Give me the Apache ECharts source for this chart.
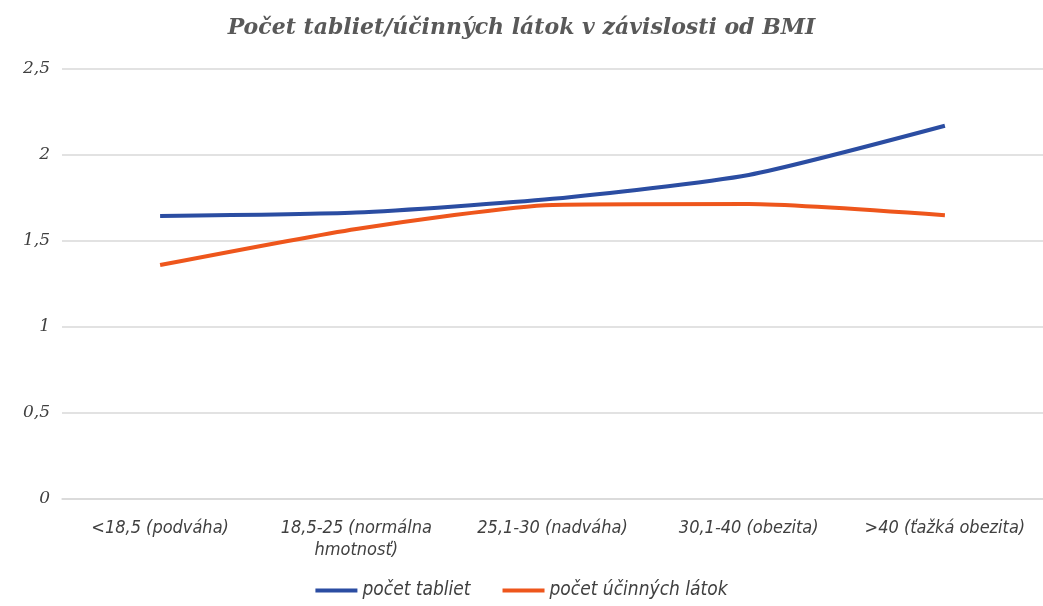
<!DOCTYPE html>
<html><head><meta charset="utf-8">
<script src="https://cdn.jsdelivr.net/npm/echarts@6/dist/echarts.min.js"></script>
<style>html,body{margin:0;padding:0;background:#fff}#c{width:1043px;height:606px}</style>
</head><body><div id="c"></div>
<script>
const categories = ["<18,5 (podváha)", "18,5-25 (normálna\nhmotnosť)", "25,1-30 (nadváha)", "30,1-40 (obezita)", ">40 (ťažká obezita)"];
const tablety = [1.645, 1.665, 1.745, 1.884, 2.17];
const latky = [1.36, 1.57, 1.71, 1.715, 1.65];
const seriesNames = ["počet tabliet", "počet účinných látok"];
const titleText = "Počet tabliet/účinných látok v závislosti od BMI";

const chart = echarts.init(document.getElementById('c'));
chart.setOption({
  animation: false,
  backgroundColor: '#fff',
  title: {
    text: titleText, left: 'center', top: 12,
    textStyle: {fontFamily: 'DejaVu Serif', fontStyle: 'italic', fontWeight: 'bold', fontSize: 22, color: '#595959'}
  },
  legend: {
    bottom: 1, left: 'center', itemWidth: 42, itemHeight: 4, itemGap: 32,
    icon: 'rect',
    textStyle: {fontFamily: 'Liberation Sans Narrow, DejaVu Sans Condensed, sans-serif', fontStyle: 'italic', fontSize: 19, color: '#404040'},
    data: seriesNames
  },
  grid: {left: 62, right: 0, top: 69, bottom: 107},
  xAxis: {
    type: 'category', data: categories, boundaryGap: true,
    axisLine: {show: true, lineStyle: {color: '#d9d9d9', width: 1.5}},
    axisTick: {show: false},
    axisLabel: {interval: 0, margin: 18, lineHeight: 22, color: '#404040', fontFamily: 'Liberation Sans Narrow, DejaVu Sans Condensed, sans-serif', fontStyle: 'italic', fontSize: 18}
  },
  yAxis: {
    type: 'value', min: 0, max: 2.5, interval: 0.5,
    splitLine: {lineStyle: {color: '#d9d9d9', width: 1.5}},
    axisLine: {show: false}, axisTick: {show: false},
    axisLabel: {margin: 12, color: '#404040', fontFamily: 'DejaVu Serif, serif', fontStyle: 'italic', fontSize: 17,
      formatter: v => String(v).replace('.', ',')}
  },
  series: [
    {name: seriesNames[0], type: 'line', data: tablety, smooth: 0.2, symbol: 'none',
      lineStyle: {color: '#2B4DA2', width: 4}, itemStyle: {color: '#2B4DA2'}},
    {name: seriesNames[1], type: 'line', data: latky, smooth: 0.2, symbol: 'none',
      lineStyle: {color: '#EE561C', width: 4}, itemStyle: {color: '#EE561C'}}
  ]
});
</script></body></html>
